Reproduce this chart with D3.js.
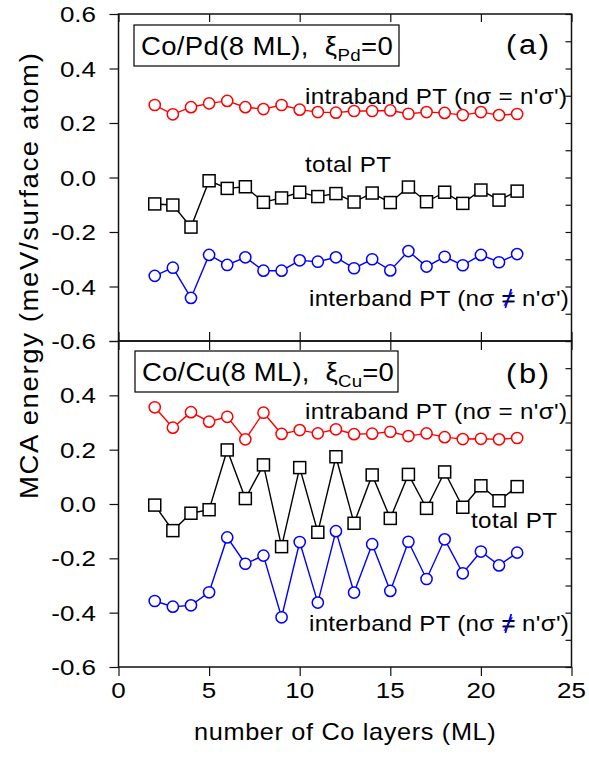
<!DOCTYPE html>
<html>
<head>
<meta charset="utf-8">
<script src="https://cdn.jsdelivr.net/npm/d3@7"></script>
<style>
  body { margin: 0; background: #fff; }
  svg { display: block; }
  text { font-family: "Liberation Sans", Arial, sans-serif; fill: #000; white-space: pre; }
</style>
</head>
<body>
<svg id="chart" width="589" height="764"></svg>
<script>
// Number of Co layers (ML)
const layers = [2, 3, 4, 5, 6, 7, 8, 9, 10, 11, 12, 13, 14, 15, 16, 17, 18, 19, 20, 21, 22];

// (a) Co/Pd(8 ML), MCA energy in meV/surface atom
const pdIntra = [0.266, 0.232, 0.258, 0.272, 0.281, 0.258, 0.251, 0.266, 0.249, 0.240, 0.238,
                 0.244, 0.244, 0.246, 0.234, 0.240, 0.237, 0.229, 0.240, 0.229, 0.233];
const pdTotal = [-0.097, -0.101, -0.182, -0.012, -0.040, -0.034, -0.091, -0.075, -0.054, -0.070, -0.059,
                 -0.090, -0.057, -0.092, -0.035, -0.089, -0.054, -0.095, -0.046, -0.083, -0.050];
const pdInter = [-0.361, -0.331, -0.442, -0.284, -0.321, -0.293, -0.342, -0.342, -0.304, -0.309, -0.293,
                 -0.333, -0.300, -0.341, -0.270, -0.327, -0.291, -0.322, -0.284, -0.311, -0.281];

// (b) Co/Cu(8 ML)
const cuIntra = [0.356, 0.281, 0.338, 0.303, 0.321, 0.238, 0.336, 0.258, 0.272, 0.260, 0.275,
                 0.257, 0.259, 0.266, 0.250, 0.260, 0.246, 0.239, 0.240, 0.238, 0.243];
const cuTotal = [-0.004, -0.098, -0.034, -0.021, 0.199, 0.020, 0.144, -0.157, 0.134, -0.104, 0.174,
                 -0.071, 0.107, -0.053, 0.109, -0.016, 0.118, -0.012, 0.067, 0.012, 0.064];
const cuInter = [-0.357, -0.378, -0.373, -0.325, -0.123, -0.220, -0.190, -0.417, -0.140, -0.363, -0.100,
                 -0.326, -0.148, -0.320, -0.139, -0.276, -0.130, -0.255, -0.175, -0.226, -0.179];

// Tick values and labels
const xMajor = [0, 5, 10, 15, 20, 25];
const xMinor = [0, 1, 2, 3, 4, 5, 6, 7, 8, 9, 10, 11, 12, 13, 14, 15, 16, 17, 18, 19, 20, 21, 22, 23, 24, 25];
const yMajor = [-0.6, -0.4, -0.2, 0.0, 0.2, 0.4, 0.6];
const yMinor = [-0.6, -0.5, -0.4, -0.3, -0.2, -0.1, 0.0, 0.1, 0.2, 0.3, 0.4, 0.5, 0.6];
const yLabelsA = ["0.6", "0.4", "0.2", "0.0", "-0.2", "-0.4", "-0.6"];
const yLabelsB = ["0.4", "0.2", "0.0", "-0.2", "-0.4", "-0.6"];

const svg = d3.select("#chart");

const x = d3.scaleLinear().domain([0, 25]).range([118.5, 571.5]);
const yA = d3.scaleLinear().domain([-0.6, 0.6]).range([341, 14]);
const yB = d3.scaleLinear().domain([-0.6, 0.6]).range([667, 341]);

// Text helper: a slightly widened sans face, opened up with letter spacing
// until the run reaches the requested width
function label(parent, opts) {
  const g = parent.append("g");
  const t = g.append("text").attr("font-size", opts.size);
  (opts.parts || [{ t: opts.text }]).forEach(p => {
    const s = t.append("tspan").text(p.t);
    if (p.size) s.attr("font-size", p.size);
    if (p.dy) s.attr("dy", p.dy);
    if (p.fill) s.style("fill", p.fill);
  });
  const base = opts.sx || 1.1;
  let w = t.node().getComputedTextLength();
  if (opts.width) {
    const n = t.text().length;
    const ls = (opts.width / base - w) / Math.max(1, n - 1);
    if (ls > 0) t.attr("letter-spacing", ls.toFixed(2));
    w = t.node().getComputedTextLength();
    if (ls > 0) w -= ls; // trailing spacing after the last glyph
  }
  const sx = opts.width ? opts.width / w : base;
  const span = w * sx;
  const off = opts.anchor === "middle" ? -span / 2 : opts.anchor === "end" ? -span : 0;
  if (opts.rotate) {
    g.attr("transform", `translate(${opts.x},${opts.y}) rotate(-90) translate(${off},0) scale(${sx},1)`);
  } else {
    g.attr("transform", `translate(${opts.x + off},${opts.y}) scale(${sx},1)`);
  }
  return { g, t, sx };
}

function panel(y, series, info) {
  const gp = svg.append("g");
  const [y0, y1] = y.range();

  // minor and major ticks on all four sides
  const left = gp.append("g").attr("transform", `translate(${x(0)},0)`);
  left.call(d3.axisLeft(y).tickValues(yMinor).tickSize(5).tickFormat(""));
  left.call(d3.axisLeft(y).tickValues(yMajor).tickSize(9).tickFormat(""));
  const right = gp.append("g").attr("transform", `translate(${x(25)},0)`);
  right.call(d3.axisLeft(y).tickValues(yMinor).tickSize(6).tickFormat(""));
  const top = gp.append("g").attr("transform", `translate(0,${y1})`);
  const bottom = gp.append("g").attr("transform", `translate(0,${y0})`);
  if (info.topInward) {
    top.call(d3.axisBottom(x).tickValues(xMinor).tickSize(5).tickFormat(""));
    top.call(d3.axisBottom(x).tickValues(xMajor).tickSize(8).tickFormat(""));
  } else {
    top.call(d3.axisTop(x).tickValues(xMinor).tickSize(5).tickFormat(""));
    top.call(d3.axisTop(x).tickValues(xMajor).tickSize(9).tickFormat(""));
  }
  bottom.call(d3.axisBottom(x).tickValues(xMinor).tickSize(5).tickFormat(""));
  bottom.call(d3.axisBottom(x).tickValues(xMajor).tickSize(9).tickFormat(""));
  gp.selectAll(".domain").remove();
  gp.selectAll(".tick line").attr("stroke", "#111").attr("stroke-width", 1.2);

  // frame
  gp.append("rect")
    .attr("x", x(0)).attr("y", y1)
    .attr("width", x(25) - x(0)).attr("height", y0 - y1)
    .attr("fill", "none").attr("stroke", "#111").attr("stroke-width", 1.5);

  // y tick labels
  info.yLabels.forEach(s => {
    label(gp, { text: s, x: 96, y: y(+s) + 8, size: 22, sx: 1.18, anchor: "end" });
  });

  // series lines and markers
  const line = d3.line().x((d, i) => x(layers[i])).y(d => y(d));
  series.forEach(s => {
    gp.append("path").datum(s.values)
      .attr("d", line).attr("fill", "none")
      .attr("stroke", s.color).attr("stroke-width", 1.4);
    const m = gp.append("g");
    if (s.shape === "square") {
      m.selectAll("rect").data(s.values).join("rect")
        .attr("x", (d, i) => x(layers[i]) - 6).attr("y", d => y(d) - 6)
        .attr("width", 12).attr("height", 12)
        .attr("fill", "#fff").attr("stroke", s.color).attr("stroke-width", 1.5);
    } else {
      m.selectAll("circle").data(s.values).join("circle")
        .attr("cx", (d, i) => x(layers[i])).attr("cy", d => y(d)).attr("r", 5.6)
        .attr("fill", "#fff").attr("stroke", s.color).attr("stroke-width", 1.5);
    }
  });

  // boxed title
  gp.append("rect")
    .attr("x", info.box[0]).attr("y", info.box[1])
    .attr("width", info.box[2]).attr("height", info.box[3])
    .attr("fill", "#fff").attr("stroke", "#000").attr("stroke-width", 1.2);
  label(gp, {
    parts: [{ t: info.metal + "(8 ML),  ξ" }, { t: info.sub, size: 17, dy: 6 }, { t: "=0", dy: -6 }],
    x: info.box[0] + 7, y: info.boxText, size: 25, width: info.boxTextWidth
  });

  // panel letter
  label(gp, { text: info.letter, x: 506, y: info.letterY, size: 28, width: 43 });

  // curve annotations
  label(gp, { text: "intraband PT (nσ = n'σ')", x: 305, y: info.intraY, size: 22, width: 262 });
  label(gp, { text: "total PT", x: info.totalX, y: info.totalY, size: 22, width: 86 });
  const inter = label(gp, {
    parts: [{ t: "interband PT (nσ " }, { t: "≠", fill: "#0000ff" }, { t: " n'σ')" }],
    x: 309, y: info.interY, size: 22, width: 260
  });
  // blue slash with black bars for the not-equal sign
  const idx = "interband PT (nσ ".length;
  const ext = inter.t.node().getExtentOfChar(idx);
  const px = inter.t.node().getStartPositionOfChar(idx).x;
  inter.g.append("line")
    .attr("x1", ext.x + ext.width * 0.28).attr("y1", 2)
    .attr("x2", ext.x + ext.width * 0.72).attr("y2", -17)
    .attr("stroke", "#0000ff").attr("stroke-width", 1.6);
  inter.g.append("text").attr("x", px).attr("y", 0).attr("font-size", 22).text("=");
}

panel(yA, [
  { values: pdIntra, color: "#ff0000", shape: "circle" },
  { values: pdTotal, color: "#000000", shape: "square" },
  { values: pdInter, color: "#0000ff", shape: "circle" }
], {
  topInward: true, yLabels: yLabelsA, metal: "Co/Pd", sub: "Pd", letter: "(a)", letterY: 54,
  box: [134, 25, 265, 41], boxText: 55, boxTextWidth: 252,
  intraY: 104, totalX: 305, totalY: 172, interY: 306
});

panel(yB, [
  { values: cuIntra, color: "#ff0000", shape: "circle" },
  { values: cuTotal, color: "#000000", shape: "square" },
  { values: cuInter, color: "#0000ff", shape: "circle" }
], {
  topInward: false, yLabels: yLabelsB, metal: "Co/Cu", sub: "Cu", letter: "(b)", letterY: 383,
  box: [135, 351, 263, 41], boxText: 381, boxTextWidth: 252,
  intraY: 419, totalX: 471, totalY: 528, interY: 631
});

// x tick labels and axis titles
xMajor.forEach(v => {
  label(svg, { text: String(v), x: x(v), y: 698, size: 22, sx: 1.18, anchor: "middle" });
});
label(svg, { text: "number of Co layers (ML)", x: 345, y: 740, size: 23, width: 302, anchor: "middle" });
label(svg, { text: "MCA energy (meV/surface atom)", x: 38, y: 276, size: 25, width: 446, anchor: "middle", rotate: true });
</script>
</body>
</html>
